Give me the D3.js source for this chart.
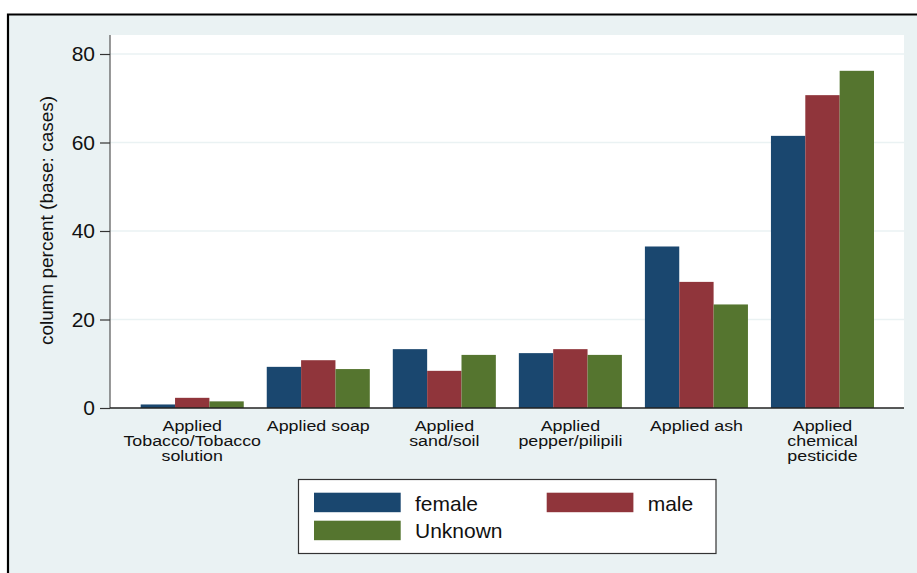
<!DOCTYPE html>
<html><head><meta charset="utf-8">
<script src="https://cdn.jsdelivr.net/npm/d3@7"></script>
<style>body{margin:0;background:#fff}svg{display:block;font-family:"Liberation Sans",Arial,sans-serif}</style>
</head><body><svg id="c" width="917" height="573"></svg>
<script>
const categories = ["Applied Tobacco/Tobacco solution","Applied soap","Applied sand/soil","Applied pepper/pilipili","Applied ash","Applied chemical pesticide"];
const categoryLines = [["Applied","Tobacco/Tobacco","solution"],["Applied soap"],["Applied","sand/soil"],["Applied","pepper/pilipili"],["Applied ash"],["Applied","chemical","pesticide"]];
const seriesNames = ["female","male","Unknown"];
const female = [0.8, 9.3, 13.3, 12.4, 36.5, 61.5];
const male = [2.3, 10.8, 8.4, 13.3, 28.5, 70.7];
const unknown = [1.5, 8.8, 12.0, 12.0, 23.4, 76.2];
const yTicks = [0, 20, 40, 60, 80];
const colors = ["#1a476f", "#90353b", "#55752f"];
const seriesValues = [female, male, unknown];

const svg = d3.select("#c");
svg.append("rect").attr("x", 8).attr("y", 15).attr("width", 920).attr("height", 570).attr("fill", "#eaf2f3");
svg.append("path").attr("d", "M8,573 V14.5 H917").attr("fill", "none").attr("stroke", "#000").attr("stroke-width", 2.2);

const L = 110, R = 904, T = 35, B = 408;
svg.append("rect").attr("x", L).attr("y", T).attr("width", R - L).attr("height", B - T).attr("fill", "#fff");

const y = d3.scaleLinear().domain([0, 80]).range([B, 54]);
const x = d3.scaleBand().domain(categories).range([140.7, 874]).paddingInner(0.1825).paddingOuter(0);
const xs = d3.scaleBand().domain(seriesNames).range([0, x.bandwidth()]);

svg.append("g").selectAll("line").data(yTicks.filter(d => d > 0)).join("line")
  .attr("x1", L).attr("x2", R).attr("y1", d => y(d)).attr("y2", d => y(d))
  .attr("stroke", "#eaf2f3").attr("stroke-width", 1.6);

const rows = [];
categories.forEach((c, i) => seriesNames.forEach((s, j) => rows.push({c, s, v: seriesValues[j][i], j})));
svg.append("g").selectAll("rect").data(rows).join("rect")
  .attr("x", d => x(d.c) + xs(d.s)).attr("width", xs.bandwidth())
  .attr("y", d => y(d.v)).attr("height", d => B - y(d.v))
  .attr("fill", d => colors[d.j]);

const ya = svg.append("g").attr("transform", `translate(${L},0)`)
  .call(d3.axisLeft(y).tickValues(yTicks).tickSize(10).tickPadding(5));
ya.select(".domain").attr("d", `M0,${T}V${B}`).attr("stroke", "#555").attr("stroke-width", 1.2);
ya.selectAll(".tick line").attr("stroke", "#333").attr("stroke-width", 1.2);
ya.selectAll(".tick text").attr("font-size", 21).attr("font-family", "Liberation Sans, Arial, sans-serif").attr("fill", "#111");

svg.append("line").attr("x1", L).attr("x2", R).attr("y1", B).attr("y2", B).attr("stroke", "#222").attr("stroke-width", 1.5);

const xl = svg.append("g");
categories.forEach((c, i) => {
  const cx = x(c) + x.bandwidth() / 2;
  const t = xl.append("text").attr("transform", `translate(${cx},430.5) scale(1.15,1)`)
    .attr("text-anchor", "middle").attr("font-size", 15.5).attr("fill", "#111");
  categoryLines[i].forEach((ln, k) => t.append("tspan").attr("x", 0).attr("dy", k === 0 ? 0 : 15.5).text(ln));
});

svg.append("text").attr("transform", `translate(53,${(93 + 348) / 2}) rotate(-90)`)
  .attr("text-anchor", "middle").attr("font-size", 19).attr("fill", "#111").text("column percent (base: cases)");

const lg = svg.append("g");
lg.append("rect").attr("x", 298.5).attr("y", 479.5).attr("width", 417.5).attr("height", 74).attr("fill", "#fff").attr("stroke", "#333").attr("stroke-width", 1.2);
const legPos = [{x: 314, y: 492.7, tx: 415, ty: 511}, {x: 546.7, y: 492.7, tx: 647.7, ty: 511}, {x: 314, y: 520.7, tx: 415, ty: 538}];
seriesNames.forEach((s, j) => {
  lg.append("rect").attr("x", legPos[j].x).attr("y", legPos[j].y).attr("width", 86.7).attr("height", 19.5).attr("fill", colors[j]);
  lg.append("text").attr("x", legPos[j].tx).attr("y", legPos[j].ty).attr("font-size", 21).attr("fill", "#111").text(s);
});
</script></body></html>
